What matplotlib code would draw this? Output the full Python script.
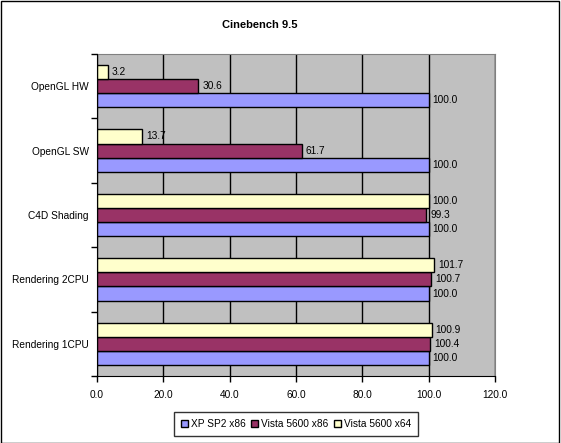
import numpy as np
import matplotlib
matplotlib.use("Agg")
import matplotlib.pyplot as plt
from matplotlib.patches import Rectangle

plt.rcParams['font.family'] = ['Liberation Sans', 'DejaVu Sans']

categories = ["OpenGL HW", "OpenGL SW", "C4D Shading", "Rendering 2CPU", "Rendering 1CPU"]
series_names = ["XP SP2 x86", "Vista 5600 x86", "Vista 5600 x64"]
xp_x86 = [100.0, 100.0, 100.0, 100.0, 100.0]
vista_x86 = [30.6, 61.7, 99.3, 100.7, 100.4]
vista_x64 = [3.2, 13.7, 100.0, 101.7, 100.9]
colors = ["#9999FF", "#993366", "#FFFFCC"]
xticks = [0, 20, 40, 60, 80, 100, 120]

W, H = 561, 443
fs = 7.3
fig = plt.figure(figsize=(W / 100, H / 100), dpi=100)
ax = fig.add_axes([97 / W, 1 - 376 / H, (495 - 97) / W, (376 - 54) / H])
ax.set_facecolor("#C0C0C0")

n = len(categories)
pos = np.arange(n)[::-1]  # first category at top
bh = 0.22
all_series = [xp_x86, vista_x86, vista_x64]
offsets = [-bh, 0, bh]  # XP lowest, x64 on top
for vals, col, off, name in zip(all_series, colors, offsets, series_names):
    y = pos + off
    ax.barh(y, vals, height=bh, color=col, edgecolor="black", linewidth=1.0,
            label=name, zorder=3)
    for yy, v in zip(y, vals):
        ax.text(v + 1.2, yy, "%.1f" % v, va="center", ha="left", fontsize=fs, zorder=4)

ax.set_xlim(0, 120)
ax.set_ylim(-0.5, n - 0.5)
ax.set_xticks(xticks)
ax.set_xticklabels(["%.1f" % t for t in xticks], fontsize=fs)
ax.set_yticks(pos)
ax.set_yticklabels(categories, fontsize=fs)
ax.set_yticks(np.arange(-0.5, n, 1.0), minor=True)
ax.tick_params(axis="y", which="major", length=0, pad=6)
ax.tick_params(axis="y", which="minor", length=4, width=1, direction="out")
ax.tick_params(axis="x", length=4, width=1, direction="out", pad=6)
ax.xaxis.grid(True, color="black", linewidth=1, zorder=1)
ax.set_axisbelow(True)
for s in ["top", "right"]:
    ax.spines[s].set_color("#808080")
for s in ["left", "bottom"]:
    ax.spines[s].set_color("black")
    ax.spines[s].set_zorder(5)

fig.text(260 / W, 1 - 25 / H, "Cinebench 9.5", ha="center", va="center",
         fontsize=8, fontweight="bold")

handles, labels = ax.get_legend_handles_labels()
leg = fig.legend(handles, labels, loc="center", bbox_to_anchor=(296 / W, 1 - 424 / H),
                 ncol=3, fontsize=fs, frameon=True, fancybox=False, handlelength=0.7,
                 handleheight=0.7, handletextpad=0.3, columnspacing=0.5,
                 borderpad=0.7, borderaxespad=0)
leg.get_frame().set_edgecolor("black")
leg.get_frame().set_linewidth(1)

fig.patches.append(Rectangle((0.5 / W, 0.5 / H), 1 - 2.5 / W, 1 - 1.5 / H,
                             transform=fig.transFigure, fill=False,
                             edgecolor="black", linewidth=1))

fig.savefig("out.png", dpi=100, facecolor="white")
